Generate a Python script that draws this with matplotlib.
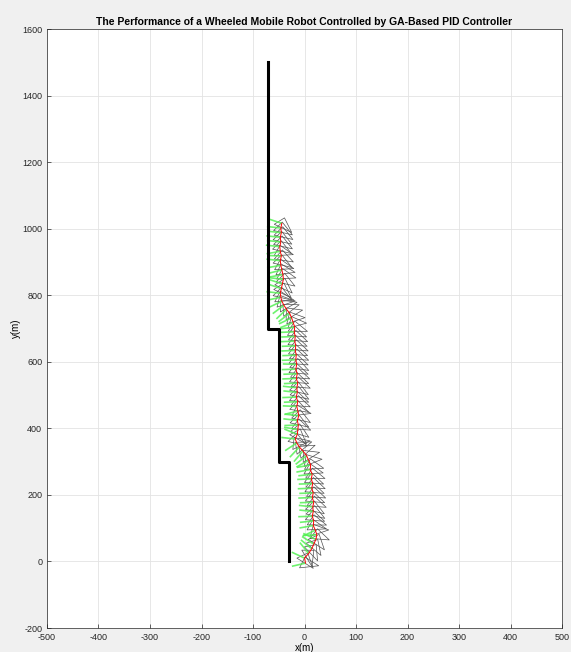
import numpy as np
import matplotlib.pyplot as plt
from matplotlib.collections import LineCollection, PolyCollection

# Reference path (desired trajectory)
ref_x = [-70, -70, -50, -50, -30, -30]
ref_y = [1500, 700, 700, 300, 300, 0]

# Robot poses along the actual trajectory
pose_y = [-5, 10, 24, 38, 52, 66, 80, 94, 108, 122, 136, 150, 164, 178, 192, 206,
          220, 234, 248, 262, 276, 290, 304, 318,
          332, 344, 356, 368, 382, 396,
          410, 424, 438, 452, 466, 480, 494, 508, 522, 536, 550, 564, 578, 592,
          606, 620, 634, 648, 662, 676, 690, 704, 718, 732,
          746, 758, 770, 782, 794,
          806, 820, 834, 848, 862, 876, 890, 904, 918, 932, 946, 960, 974, 988,
          1002, 1016]
pose_x = [2, 0, 8, 14, 18, 22, 24, 21, 17, 18, 15, 17, 16, 18, 15, 17,
          14, 16, 13, 15, 11, 12, 8, 4,
          -3, -10, -15, -18, -14, -13,
          -12, -14, -11, -13, -15, -13, -16, -14, -15, -13, -16, -14, -17, -15,
          -17, -16, -18, -17, -19, -18, -20, -19, -22, -25,
          -29, -35, -40, -44, -46,
          -47, -45, -43, -41, -42, -44, -46, -47, -45, -47, -48, -46, -47, -45,
          -46, -44]

title = "The Performance of a Wheeled Mobile Robot Controlled by GA-Based PID Controller"

plt.rcParams['font.family'] = ['Liberation Sans', 'DejaVu Sans']
plt.rcParams['axes.unicode_minus'] = False

fig = plt.figure(figsize=(5.71, 6.52), dpi=100, facecolor='#f0f0f0')
ax = fig.add_axes([0.0823, 0.0368, 0.902, 0.9187])
ax.set_facecolor('white')

ax.set_xlim(-500, 500)
ax.set_ylim(-200, 1600)
ax.set_xticks(np.arange(-500, 501, 100))
ax.set_yticks(np.arange(-200, 1601, 200))
ax.grid(True, color='#e3e3e3', linewidth=0.6)
ax.set_axisbelow(True)
ax.tick_params(direction='in', length=3, width=0.5, labelsize=6.5,
               colors='#262626', top=False, right=False)
for s in ax.spines.values():
    s.set_color('#262626')
    s.set_linewidth(0.5)

ax.set_title(title, fontsize=7.5, fontweight='bold', pad=3)
ax.set_xlabel('x(m)', fontsize=7, labelpad=1)
ax.set_ylabel('y(m)', fontsize=7, labelpad=1)

# robot body drawn in screen-like units then scaled to data
sx, sy = 1 / 0.515, 1 / 0.333
px = np.array(pose_x, dtype=float)
py = np.array(pose_y, dtype=float)
hx = np.gradient(px) / sx
hy = np.gradient(py) / sy
ang = (np.arctan2(hy, hx) - np.pi / 2) * 1.3

body = np.array([[1, 6], [-7, -3], [12, -6]], dtype=float)
stick = np.array([[0, 0], [-14, 0.5]], dtype=float)

tris, greens = [], []
for x0, y0, a in zip(px, py, ang):
    c, s = np.cos(a), np.sin(a)
    R = np.array([[c, -s], [s, c]])
    b = body @ R.T
    g = stick @ R.T
    tris.append(np.column_stack([x0 + b[:, 0] * sx, y0 + b[:, 1] * sy]))
    greens.append(np.column_stack([x0 + g[:, 0] * sx, y0 + g[:, 1] * sy]))

ax.add_collection(LineCollection(greens, colors='#55f055', linewidths=1.2, alpha=0.85))
ax.add_collection(PolyCollection(tris, facecolors='none', edgecolors='#505050',
                                 linewidths=0.5))
ax.plot(pose_x, pose_y, color='red', linewidth=0.7)
ax.plot(ref_x, ref_y, color='black', linewidth=2.2)

fig.savefig('out.png', dpi=100, facecolor=fig.get_facecolor())
